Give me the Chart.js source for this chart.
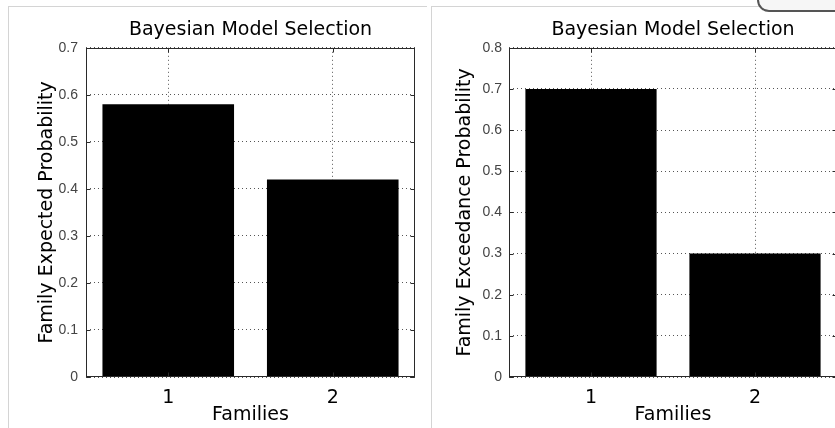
<!DOCTYPE html>
<html>
<head>
<meta charset="utf-8">
<script src="https://cdn.jsdelivr.net/npm/chart.js@4.4.1/dist/chart.umd.min.js"></script>
<style>
  html, body { margin: 0; padding: 0; background: #fff; overflow: hidden; }
  body { width: 835px; height: 428px; position: relative; }
  .frame { position: absolute; border-top: 1px solid #d4d4d4; border-left: 1px solid #d4d4d4; }
  .box { position: absolute; }
  .bubble { position: absolute; left: 757px; top: -34px; width: 110px; height: 42px;
            border: 2px solid #555; border-radius: 12px; background: #f6f6f6; }
</style>
</head>
<body>
<div class="frame" style="left:8px; top:6px; width:418px; height:430px;"></div>
<div class="frame" style="left:431px; top:6px; width:420px; height:430px;"></div>
<div class="bubble"></div>
<div class="box" style="left:0; top:0; width:420px; height:428px;"><canvas id="left"></canvas></div>
<div class="box" style="left:420px; top:0; width:430px; height:428px;"><canvas id="right"></canvas></div>
<script>
// === DATA ===
const families = ["1", "2"];
const expectedProb = [0.58, 0.42];
const exceedanceProb = [0.70, 0.30];
const titleText = "Bayesian Model Selection";
const xLabel = "Families";
const leftYLabel = "Family Expected Probability";
const rightYLabel = "Family Exceedance Probability";

const labelFont = { family: "DejaVu Sans", size: 19, weight: "normal" };

// === AXIS BOX + INNER TICKS (MATLAB style) ===
const boxPlugin = {
    id: "matlabBox",
    afterDraw(chart) {
        const { ctx, chartArea: a, scales } = chart;
        ctx.save();
        ctx.strokeStyle = "#2a2a2a";
        ctx.lineWidth = 1;
        const l = Math.round(a.left) + 0.5, r = Math.round(a.right) - 0.5;
        const t = Math.round(a.top) + 0.5, b = Math.round(a.bottom) - 0.5;
        ctx.strokeRect(l, t, r - l, b - t);
        ctx.beginPath();
        scales.y.ticks.forEach(tk => {
            const y = Math.round(scales.y.getPixelForValue(tk.value)) + 0.5;
            ctx.moveTo(l, y); ctx.lineTo(l + 4, y);
            ctx.moveTo(r, y); ctx.lineTo(r - 4, y);
        });
        scales.x.ticks.forEach((tk, i) => {
            const x = Math.round(scales.x.getPixelForTick(i)) + 0.5;
            ctx.moveTo(x, b); ctx.lineTo(x, b - 4);
            ctx.moveTo(x, t); ctx.lineTo(x, t + 4);
        });
        ctx.stroke();
        ctx.restore();
    }
};

function makeChart(id, values, yMax, yLabel, yWidth, padRight, tickPad, yTitlePad) {
    const ctx = document.getElementById(id).getContext("2d");
    return new Chart(ctx, {
        type: "bar",
        data: {
            labels: families,
            datasets: [{
                data: values,
                backgroundColor: "#000",
                borderWidth: 0,
                barPercentage: 0.8,
                categoryPercentage: 1.0
            }]
        },
        options: {
            responsive: true,
            maintainAspectRatio: false,
            animation: false,
            layout: { padding: { top: 6, left: 0, right: padRight, bottom: 0 } },
            plugins: {
                legend: { display: false },
                tooltip: { enabled: false },
                title: {
                    display: true,
                    fullSize: false,
                    text: titleText,
                    color: "#000",
                    font: labelFont,
                    padding: { top: 13, bottom: 6 }
                }
            },
            scales: {
                x: {
                    offset: true,
                    grid: { offset: false, color: "#555", drawTicks: false },
                    border: { display: false, dash: [1, 3] },
                    ticks: {
                        color: "#000",
                        padding: 10,
                        font: labelFont
                    },
                    title: {
                        display: true,
                        text: xLabel,
                        color: "#000",
                        font: labelFont,
                        padding: { top: 0, bottom: 2 }
                    },
                    afterFit(s) { s.height = 51; }
                },
                y: {
                    min: 0,
                    max: yMax,
                    grid: { color: "#555", drawTicks: false },
                    border: { display: false, dash: [1, 3] },
                    ticks: {
                        stepSize: 0.1,
                        color: "#444",
                        padding: tickPad,
                        font: { family: "Liberation Sans", size: 14 },
                        callback: v => (v === 0 ? "0" : v.toFixed(1))
                    },
                    title: {
                        display: true,
                        text: yLabel,
                        color: "#000",
                        font: labelFont,
                        padding: { top: yTitlePad, bottom: 0 }
                    },
                    afterFit(s) { s.width = yWidth; }
                }
            }
        },
        plugins: [boxPlugin]
    });
}

makeChart("left", expectedProb, 0.7, leftYLabel, 86, 5, 8, 36);
makeChart("right", exceedanceProb, 0.8, rightYLabel, 89, 13, 7, 34);
</script>
</body>
</html>
